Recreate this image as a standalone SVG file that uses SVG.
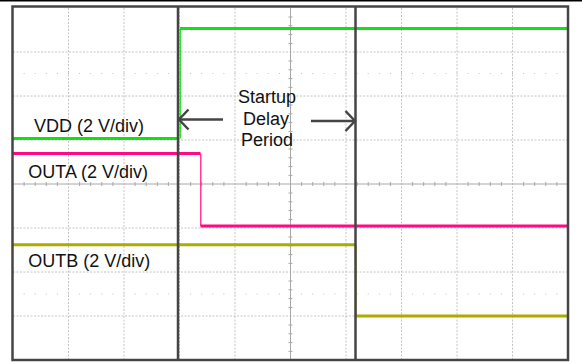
<svg xmlns="http://www.w3.org/2000/svg" width="582" height="362" viewBox="0 0 582 362">
<style>
.grid{stroke:#c4c4c4;stroke-width:1;stroke-dasharray:2 1.5;fill:none}
.axis{stroke:#a8a8a8;stroke-width:1;fill:none}
.tick{stroke:#a8a8a8;stroke-width:1}
.dots{stroke:#c0c0c0;stroke-width:1;stroke-dasharray:1 10.1}
.cursor{stroke:#454545;stroke-width:2.5}
.arrow{stroke:#454545;stroke-width:2.5;fill:none;stroke-linecap:butt}
.lbl{font-family:"Liberation Sans",Arial,sans-serif;font-size:18px;fill:#111}
.tr{fill:none;stroke-width:3}
.edge{fill:none;stroke-width:1.2}
</style>
<rect width="582" height="362" fill="#fff"/>
<line x1="0" y1="0.8" x2="582" y2="0.8" stroke="#000" stroke-width="1.6"/>
<g id="grid">
<path class="grid" d="M68.5 8V359M124 8V359M179.5 8V359M235 8V359M346 8V359M401.5 8V359M457 8V359M512.5 8V359"/>
<path class="grid" d="M13 52H568M13 96H568M13 140H568M13 228H568M13 272H568M13 316H568"/>
<path class="dots" d="M23.6 73.5H568M23.6 294H568"/>
<path class="axis" d="M290.5 8V359M13 184H568"/>
<path class="tick" d="M288.5 17H292.5M288.5 25.8H292.5M288.5 34.6H292.5M288.5 43.4H292.5M288.5 61H292.5M288.5 69.8H292.5M288.5 78.6H292.5M288.5 87.4H292.5M288.5 105H292.5M288.5 113.8H292.5M288.5 122.6H292.5M288.5 131.4H292.5M288.5 149H292.5M288.5 157.8H292.5M288.5 166.6H292.5M288.5 175.4H292.5M288.5 193H292.5M288.5 201.8H292.5M288.5 210.6H292.5M288.5 219.4H292.5M288.5 237H292.5M288.5 245.8H292.5M288.5 254.6H292.5M288.5 263.4H292.5M288.5 281H292.5M288.5 289.8H292.5M288.5 298.6H292.5M288.5 307.4H292.5M288.5 325H292.5M288.5 333.8H292.5M288.5 342.6H292.5M288.5 351.4H292.5"/>
<path class="tick" d="M24.1 182V186M35.2 182V186M46.3 182V186M57.4 182V186M79.6 182V186M90.7 182V186M101.8 182V186M112.9 182V186M135.1 182V186M146.2 182V186M157.3 182V186M168.4 182V186M190.6 182V186M201.7 182V186M212.8 182V186M223.9 182V186M246.1 182V186M257.2 182V186M268.3 182V186M279.4 182V186M301.6 182V186M312.7 182V186M323.8 182V186M334.9 182V186M357.1 182V186M368.2 182V186M379.3 182V186M390.4 182V186M412.6 182V186M423.7 182V186M434.8 182V186M445.9 182V186M468.1 182V186M479.2 182V186M490.3 182V186M501.4 182V186M523.6 182V186M534.7 182V186M545.8 182V186M556.9 182V186"/>
</g>
<g id="traces">
<g id="vdd" stroke="#12e012">
<path class="tr" d="M13 138.5H179"/>
<path class="edge" d="M180.3 138.5V28.5"/>
<path class="tr" d="M180 28.5H568"/>
</g>
<g id="outa" stroke="#ff0a84">
<path class="tr" d="M13 153.5H200.5"/>
<path class="edge" d="M200.8 153.5V226"/>
<path class="tr" d="M200.5 226H568"/>
</g>
<g id="outb" stroke="#acac00">
<path class="tr" d="M13 244.7H356"/>
<path class="edge" d="M356 244.7V316"/>
<path class="tr" d="M356 316H568"/>
</g>
</g>
<g id="cursors">
<line class="cursor" x1="178" y1="7" x2="178" y2="360"/>
<line class="cursor" x1="355.5" y1="7" x2="355.5" y2="360"/>
</g>
<rect id="frame" x="12.5" y="6.5" width="555.5" height="353.5" fill="none" stroke="#454545" stroke-width="2.5"/>
<g id="connectors">
<line class="arrow" x1="179" y1="119.5" x2="223" y2="119.5"/>
<polyline class="arrow" points="188.5,109.5 179,119.5 188.5,129.5"/>
<line class="arrow" x1="311" y1="121" x2="355" y2="121"/>
<polyline class="arrow" points="345.5,111 355,121 345.5,131"/>
</g>
<g id="label-startup">
<text class="lbl" x="267" y="102.5" text-anchor="middle">Startup</text>
<text class="lbl" x="266" y="124.5" text-anchor="middle">Delay</text>
<text class="lbl" x="267" y="146" text-anchor="middle">Period</text>
</g>
<g id="label-vdd"><text class="lbl" x="34" y="131.7">VDD (2 V/div)</text></g>
<g id="label-outa"><text class="lbl" x="28.3" y="178.3">OUTA (2 V/div)</text></g>
<g id="label-outb"><text class="lbl" x="28.3" y="266.7">OUTB (2 V/div)</text></g>
</svg>
